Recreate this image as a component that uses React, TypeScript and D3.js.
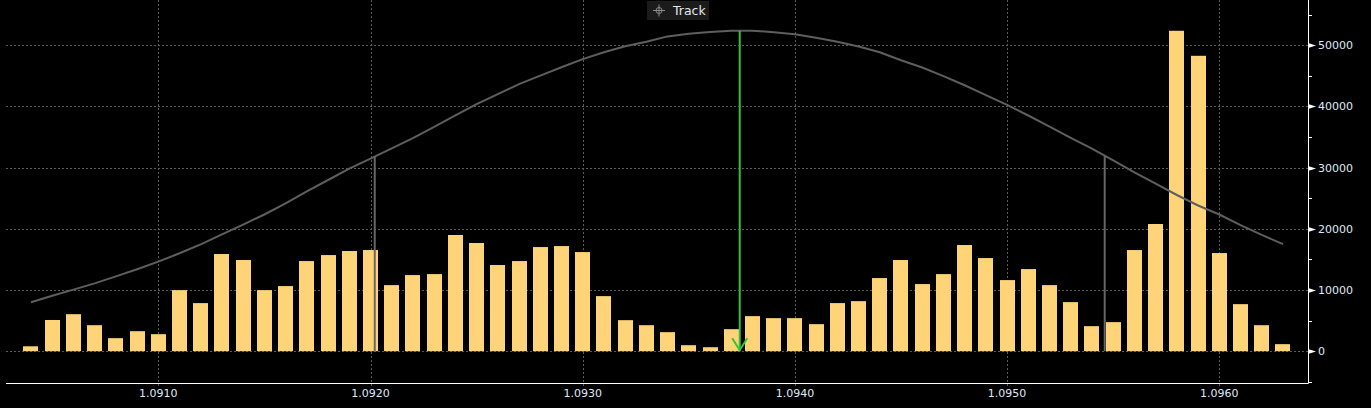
import { useRef, useEffect } from "react";
import * as d3 from "d3";

const W = 1371;
const H = 408;

// strike levels (bar centres)
const strikes = [
  1.0904, 1.0905, 1.0906, 1.0907, 1.0908, 1.0909, 1.091, 1.0911, 1.0912, 1.0913,
  1.0914, 1.0915, 1.0916, 1.0917, 1.0918, 1.0919, 1.092, 1.0921, 1.0922, 1.0923,
  1.0924, 1.0925, 1.0926, 1.0927, 1.0928, 1.0929, 1.093, 1.0931, 1.0932, 1.0933,
  1.0934, 1.0935, 1.0936, 1.0937, 1.0938, 1.0939, 1.094, 1.0941, 1.0942, 1.0943,
  1.0944, 1.0945, 1.0946, 1.0947, 1.0948, 1.0949, 1.095, 1.0951, 1.0952, 1.0953,
  1.0954, 1.0955, 1.0956, 1.0957, 1.0958, 1.0959, 1.096, 1.0961, 1.0962, 1.0963,
];

const volumes = [
  800, 5100, 6050, 4250, 2130, 3270, 2780, 9980, 7860, 15880,
  14900, 9980, 10640, 14730, 15710, 16370, 16530, 10800, 12440, 12600,
  18990, 17680, 14080, 14730, 17020, 17180, 16200, 9000, 5070, 4250,
  3110, 980, 650, 3600, 5730, 5400, 5400, 4420, 7860, 8180,
  11950, 14900, 10970, 12600, 17350, 15220, 11620, 13420, 10800, 8020,
  4090, 4750, 16530, 20790, 52370, 48280, 16040, 7690, 4250, 1150,
];

// distribution curve, same axis
const track = [
  8010, 9050, 10060, 11090, 12230, 13400, 14640, 16000, 17470, 19080,
  20700, 22340, 24140, 26120, 27980, 29830, 31470, 33140, 34840, 36680,
  38530, 40370, 42030, 43640, 45030, 46400, 47740, 48870, 49850, 50590,
  51450, 51900, 52160, 52390, 52390, 52140, 51820, 51230, 50570, 49800,
  48860, 47560, 46360, 44970, 43470, 41860, 40250, 38520, 36720, 34880,
  33120, 31170, 29240, 27370, 25530, 23810, 22340, 20610, 19000, 17500,
];

const spot = 1.09374;
const bandLines = [1.09202, 1.09546];

const xTicks = [1.091, 1.092, 1.093, 1.094, 1.095, 1.096];
const yTicks = [0, 10000, 20000, 30000, 40000, 50000];
const yMinor = [-5000, 5000, 15000, 25000, 35000, 45000, 55000];

const FONT = "'DejaVu Sans', Tahoma, sans-serif";
const LABEL = "#dfe9f7";
const GRID = "#5a5a5a";

function TrackChart() {
  const ref = useRef<SVGSVGElement | null>(null);

  useEffect(() => {
    const svg = d3.select(ref.current!);
    svg.selectAll("*").remove();

    const left = 6;
    const right = 1308;
    const bottom = 383;

    const x = d3.scaleLinear().domain([1.091, 1.096]).range([158.3, 1219.3]);
    const y = d3.scaleLinear().domain([-5200, 57400]).range([bottom, 0]);
    const curveAt = d3.scaleLinear().domain(strikes).range(track);

    svg.append("rect").attr("width", W).attr("height", H).attr("fill", "#000");

    //grid
    const grid = svg.append("g").attr("stroke", GRID).attr("stroke-dasharray", "2,2");
    grid
      .selectAll(".gx")
      .data(xTicks)
      .join("line")
      .attr("x1", (d) => Math.round(x(d)) + 0.5)
      .attr("x2", (d) => Math.round(x(d)) + 0.5)
      .attr("y1", 0)
      .attr("y2", bottom + 3);
    grid
      .selectAll(".gy")
      .data(yTicks)
      .join("line")
      .attr("x1", left)
      .attr("x2", right)
      .attr("y1", (d) => Math.round(y(d)) + 0.5)
      .attr("y2", (d) => Math.round(y(d)) + 0.5);

    //bars
    const bw = 15;
    svg
      .append("g")
      .selectAll("rect")
      .data(strikes)
      .join("rect")
      .attr("x", (d) => Math.round(x(d) - bw / 2))
      .attr("width", bw)
      .attr("y", (d, i) => y(volumes[i]))
      .attr("height", (d, i) => y(0) - y(volumes[i]))
      .attr("fill", "#ffd479");

    //curve
    const trackLine = d3
      .line<number>()
      .x((d) => x(d))
      .y((d, i) => y(track[i]));
    svg
      .append("path")
      .datum(strikes)
      .attr("d", trackLine)
      .attr("fill", "none")
      .attr("stroke", "#5e5e5e")
      .attr("stroke-width", 2);

    //band lines
    svg
      .append("g")
      .selectAll("line")
      .data(bandLines)
      .join("line")
      .attr("x1", (d) => x(d))
      .attr("x2", (d) => x(d))
      .attr("y1", (d) => y(curveAt(d)))
      .attr("y2", y(0))
      .attr("stroke", "#666")
      .attr("stroke-width", 2);

    //spot arrow
    const sx = x(spot);
    svg
      .append("line")
      .attr("x1", sx)
      .attr("x2", sx)
      .attr("y1", y(curveAt(spot)))
      .attr("y2", y(0))
      .attr("stroke", "#36c236")
      .attr("stroke-width", 2);
    svg
      .append("path")
      .attr("d", `M${sx - 7.5},${y(0) - 13}L${sx},${y(0) - 1}L${sx + 7.5},${y(0) - 13}`)
      .attr("fill", "none")
      .attr("stroke", "#36c236")
      .attr("stroke-width", 2);

    //axes
    svg
      .append("line")
      .attr("x1", left)
      .attr("x2", right + 0.5)
      .attr("y1", bottom + 0.5)
      .attr("y2", bottom + 0.5)
      .attr("stroke", "#fff");
    svg
      .append("line")
      .attr("x1", right + 0.5)
      .attr("x2", right + 0.5)
      .attr("y1", 0)
      .attr("y2", bottom + 0.5)
      .attr("stroke", "#fff");

    svg
      .append("g")
      .selectAll("line")
      .data(yMinor)
      .join("line")
      .attr("x1", right)
      .attr("x2", right + 4)
      .attr("y1", (d) => Math.round(y(d)) + 0.5)
      .attr("y2", (d) => Math.round(y(d)) + 0.5)
      .attr("stroke", "#fff");

    const yt = svg.append("g");
    yt.selectAll("path")
      .data(yTicks)
      .join("path")
      .attr("d", (d) => {
        const ty = Math.round(y(d)) + 0.5;
        return `M${right},${ty - 2.5}L${right + 8},${ty}L${right},${ty + 2.5}Z`;
      })
      .attr("fill", "#fff");
    yt.selectAll("text")
      .data(yTicks)
      .join("text")
      .attr("x", right + 10)
      .attr("y", (d) => y(d) + 4)
      .attr("fill", LABEL)
      .attr("font-family", FONT)
      .attr("font-size", 11)
      .text((d) => String(d));

    svg
      .append("g")
      .selectAll("text")
      .data(xTicks)
      .join("text")
      .attr("x", (d) => x(d))
      .attr("y", 397)
      .attr("text-anchor", "middle")
      .attr("fill", LABEL)
      .attr("font-family", FONT)
      .attr("font-size", 11)
      .text((d) => d.toFixed(4));

    //legend
    const lg = svg.append("g");
    lg.append("rect").attr("x", 647).attr("y", 1).attr("width", 62).attr("height", 19).attr("fill", "#1b1b1b");
    const ic = lg.append("g").attr("stroke", "#8a8a8a").attr("fill", "none");
    ic.append("circle").attr("cx", 659).attr("cy", 10.5).attr("r", 3);
    ic.append("line").attr("x1", 653).attr("x2", 665).attr("y1", 10.5).attr("y2", 10.5);
    ic.append("line").attr("x1", 659).attr("x2", 659).attr("y1", 4.5).attr("y2", 16.5);
    lg.append("text")
      .attr("x", 673)
      .attr("y", 15)
      .attr("fill", "#e2e8ee")
      .attr("font-family", FONT)
      .attr("font-size", 12.5)
      .text("Track");
  }, []);

  return <svg ref={ref} width={W} height={H} style={{ display: "block" }}></svg>;
}

export default function App() {
  return (
    <div style={{ position: "absolute", left: 0, top: 0, width: W, height: H, background: "#000" }}>
      <TrackChart />
    </div>
  );
}
